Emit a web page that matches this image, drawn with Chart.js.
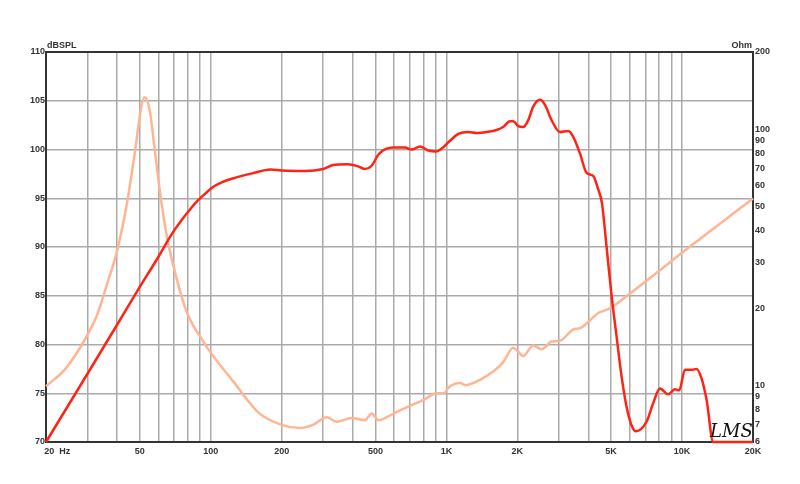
<!DOCTYPE html>
<html>
<head>
<meta charset="utf-8">
<script src="https://cdn.jsdelivr.net/npm/chart.js@4/dist/chart.umd.min.js"></script>
<style>
  body { margin: 0; background: #fff; }
  canvas { display: block; }
</style>
</head>
<body>
<canvas id="myChart" width="800" height="484"></canvas>
<script>
// SPL response (dB)
var splFreq = [20, 30, 40, 50, 60, 65, 70, 76, 82, 88, 95, 103, 112, 125, 150, 180, 200, 250, 300, 330, 380, 420, 450, 480, 520, 595, 667, 712, 772, 838, 909, 955, 1036, 1123, 1238, 1344, 1482, 1634, 1742, 1860, 1921, 2018, 2118, 2224, 2336, 2494, 2618, 2796, 3032, 3288, 3454, 3688, 3936, 4198, 4395, 4571, 4784, 5024, 5276, 5540, 5818, 6109, 6372, 7074, 7546, 8054, 8736, 9330, 9728, 10286, 10980, 11530, 12106, 12712, 13560, 20000];
var splDb = [70, 77.0, 82.0, 85.9, 89.0, 90.45, 91.7, 92.9, 93.9, 94.75, 95.5, 96.2, 96.65, 97.05, 97.55, 97.95, 97.85, 97.8, 98.0, 98.4, 98.5, 98.3, 98.0, 98.3, 99.6, 100.2, 100.2, 100.0, 100.3, 99.9, 99.8, 100.1, 100.9, 101.6, 101.8, 101.7, 101.8, 102.0, 102.3, 102.9, 102.9, 102.4, 102.3, 103.0, 104.4, 105.1, 104.6, 103.0, 101.8, 101.9, 101.3, 99.6, 97.6, 97.3, 96.0, 94.5, 90.0, 85.0, 80.8, 76.7, 73.6, 71.7, 71.1, 72.1, 74.0, 75.5, 74.9, 75.4, 75.3, 77.4, 77.4, 77.5, 76.5, 74.3, 70, 70];

// impedance (Ohm)
var impFreq = [20, 24, 27.9, 30.7, 32.8, 36.2, 39.9, 44.0, 47.7, 50.9, 52.6, 55.2, 58.0, 60.9, 65, 70.5, 79.1, 93, 100, 125, 160, 200, 239, 272, 310, 342, 396, 451, 482, 514, 605, 700, 798, 909, 977, 1022, 1142, 1212, 1388, 1580, 1742, 1921, 2018, 2118, 2336, 2536, 2796, 3032, 3454, 3688, 4066, 4395, 4862, 5170, 6010, 8054, 10116, 20000];
var impOhm = [9.9, 11.5, 14.0, 16.4, 18.6, 24.6, 33.0, 50.5, 81.6, 124, 133, 117, 81.6, 56.9, 38.6, 27.7, 19.3, 14.8, 13.4, 10.3, 7.8, 7.0, 6.8, 7.0, 7.5, 7.2, 7.45, 7.3, 7.76, 7.3, 7.8, 8.3, 8.75, 9.3, 9.3, 9.8, 10.2, 10.0, 10.5, 11.3, 12.3, 14.0, 13.5, 13.0, 14.3, 13.8, 14.8, 14.9, 16.5, 16.7, 17.9, 19.1, 19.8, 20.5, 22.8, 28.1, 33.2, 53.6];

// axis ticks
var freqGrid = [20, 30, 40, 50, 60, 70, 80, 90, 100, 200, 300, 400, 500, 600, 700, 800, 900, 1000, 2000, 3000, 4000, 5000, 6000, 7000, 8000, 9000, 10000, 20000];
var freqLabels = { 20: '         20  Hz', 50: '50', 100: '100', 200: '200', 500: '500', 1000: '1K', 2000: '2K', 5000: '5K', 10000: '10K', 20000: '20K' };
var dbTicks = [70, 75, 80, 85, 90, 95, 100, 105, 110];
var ohmTicks = [6, 7, 8, 9, 10, 20, 30, 40, 50, 60, 70, 80, 90, 100, 200];

var tickFont = { family: 'Liberation Sans, Arial, sans-serif', size: 9, weight: 'bold' };
var gridGray = '#aaaaaa';
var frame = '#333333';

function points(xs, ys) {
  return xs.map(function (x, i) { return { x: x, y: ys[i] }; });
}

// axis names and the signature, drawn as text
var titles = {
  id: 'titles',
  afterDraw: function (chart) {
    var c = chart.ctx, a = chart.chartArea;
    c.save();
    c.fillStyle = '#333';
    c.font = 'bold 9px Liberation Sans, Arial, sans-serif';
    c.textBaseline = 'alphabetic';
    c.textAlign = 'left';
    c.fillText('dBSPL', a.left + 1, a.top - 4);
    c.textAlign = 'right';
    c.fillText('Ohm', a.right - 1, a.top - 4);
    c.font = 'italic 18px "DejaVu Serif", serif';
    c.fillStyle = '#111';
    c.textAlign = 'left';
    c.fillText('LMS', a.right - 43, a.bottom - 5);
    c.restore();
  }
};

var config = {
  type: 'line',
  data: {
    datasets: [{
      label: 'SPL',
      data: points(splFreq, splDb),
      yAxisID: 'y',
      borderColor: '#ff2314',
      borderWidth: 2.5,
      pointRadius: 0,
      cubicInterpolationMode: 'monotone',
      clip: 4,
      order: 0
    }, {
      label: 'Impedance',
      data: points(impFreq, impOhm),
      yAxisID: 'y2',
      borderColor: '#ffb494',
      borderWidth: 2.5,
      pointRadius: 0,
      cubicInterpolationMode: 'monotone',
      clip: 4,
      order: 1
    }]
  },
  options: {
    responsive: false,
    animation: false,
    layout: { padding: { top: 52, left: 0, right: 0, bottom: 0 } },
    plugins: {
      legend: { display: false },
      tooltip: { enabled: false }
    },
    scales: {
      x: {
        type: 'logarithmic',
        min: 20,
        max: 20000,
        afterBuildTicks: function (scale) {
          scale.ticks = freqGrid.map(function (v) { return { value: v }; });
        },
        afterFit: function (scale) { scale.height = 42; },
        ticks: {
          autoSkip: false,
          maxRotation: 0,
          padding: 4,
          color: '#333',
          font: tickFont,
          callback: function (value) { return freqLabels[value] || ''; }
        },
        grid: { color: gridGray, lineWidth: 1.5, drawTicks: false },
        border: { color: frame, width: 2 }
      },
      y: {
        position: 'left',
        min: 70,
        max: 110,
        afterBuildTicks: function (scale) {
          scale.ticks = dbTicks.map(function (v) { return { value: v }; });
        },
        afterFit: function (scale) { scale.width = 46; },
        ticks: { autoSkip: false, padding: 1, color: '#333', font: tickFont },
        grid: {
          drawTicks: false,
          color: function (ctx) { return ctx.tick && ctx.tick.value === 110 ? frame : gridGray; },
          lineWidth: function (ctx) { return ctx.tick && ctx.tick.value === 110 ? 2 : 1.5; }
        },
        border: { color: frame, width: 2 }
      },
      y2: {
        type: 'logarithmic',
        position: 'right',
        min: 6,
        max: 200,
        afterBuildTicks: function (scale) {
          scale.ticks = ohmTicks.map(function (v) { return { value: v }; });
        },
        afterFit: function (scale) { scale.width = 47; },
        ticks: {
          autoSkip: false,
          padding: 2,
          color: '#333',
          font: tickFont,
          callback: function (value) { return String(value); }
        },
        grid: { drawOnChartArea: false, drawTicks: false },
        border: { color: frame, width: 2 }
      }
    }
  },
  plugins: [titles]
};

var myChart = new Chart(document.getElementById('myChart'), config);
</script>
</body>
</html>
